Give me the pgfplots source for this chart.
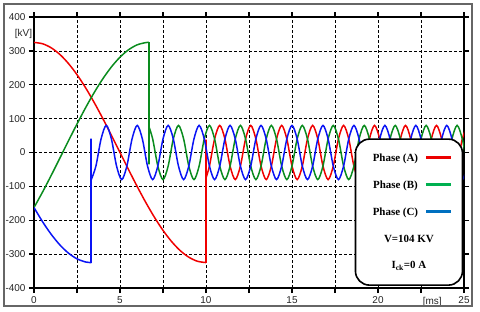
\documentclass[border=0pt]{standalone}
\usepackage{fontspec}
\setmainfont{Liberation Sans}
\newfontfamily\legfont{Liberation Serif}
\usepackage{pgfplots}
\pgfplotsset{compat=1.18}
\definecolor{cA}{RGB}{240,0,0}
\definecolor{cB}{RGB}{10,140,30}
\definecolor{cC}{RGB}{10,20,245}
\definecolor{lA}{RGB}{235,0,0}
\definecolor{lB}{RGB}{0,176,80}
\definecolor{lC}{RGB}{0,112,192}
\begin{document}
\begin{tikzpicture}
\begin{axis}[
  scale only axis, width=430bp, height=271bp,
  xmin=0, xmax=25, ymin=-400, ymax=400,
  xtick={0,2.5,5,7.5,10,12.5,15,17.5,20,22.5,25},
  xticklabels={0,,5,,10,,15,,20,,25},
  ytick={-400,-300,-200,-100,0,100,200,300,400},
  yticklabels={-400,-300,-200,-100,0,100,200,300,400},
  grid=major,
  major grid style={black, line width=0.7bp, dash pattern=on 2.5bp off 2.5bp},
  tick align=outside, major tick length=5bp,
  tick style={black, line width=1.3bp},
  axis line style={line width=2bp},
  ticklabel style={font=\fontsize{10}{12}\selectfont, text=black!85},
  /pgf/number format/assume math mode=true,
]
% Phase A (red)
\addplot[cA, line width=1.5bp, smooth] coordinates {
(0,325) (0.5,321.0) (1,309.1) (1.5,289.6) (2,262.9) (2.5,229.8) (3,191.0) (3.5,147.5) (4,100.4) (4.5,50.8) (5,0)
(5.5,-50.8) (6,-100.4) (6.5,-147.5) (7,-191.0) (7.5,-229.8) (8,-262.9) (8.5,-289.6) (9,-309.1) (9.5,-321.0) (10,-325)};
\addplot[cA, line width=1.6bp] coordinates {(10,-325) (10,38) (10,-75)};
\addplot[cA, line width=1.5bp, smooth] coordinates {
(10.0,-75) (10.2,-40) (10.5,40) (10.8,80) (11.1,40) (11.4,-40) (11.7,-80) (12.0,-40) (12.3,40) (12.6,80) (12.9,40) (13.2,-40) (13.5,-80) (13.8,-40) (14.1,40) (14.4,80) (14.7,40) (15.0,-40) (15.3,-80) (15.6,-40) (15.9,40) (16.2,80) (16.5,40) (16.8,-40) (17.1,-80) (17.4,-40) (17.7,40) (18.0,80) (18.3,40) (18.6,-40) (18.9,-80) (19.2,-40) (19.5,40) (19.8,80) (20.1,40) (20.4,-40) (20.7,-80) (21.0,-40) (21.3,40) (21.6,80) (21.9,40) (22.2,-40) (22.5,-80) (22.8,-40) (23.1,40) (23.4,80) (23.7,40) (24.0,-40) (24.3,-80) (24.6,-40) (24.9,40) (25.2,80)};
% Phase B (green)
\addplot[cB, line width=1.5bp, smooth] coordinates {
(0,-162.5) (0.5,-116.5) (1,-67.6) (1.5,-17.0) (2,34.0) (2.5,84.1) (3,132.2) (3.5,177.0) (4,217.5) (4.5,252.6) (5,281.5) (5.5,303.4) (6,317.9) (6.5,324.5) (6.67,325)};
\addplot[cB, line width=1.6bp] coordinates {(6.67,325) (6.67,-35) (6.67,78)};
\addplot[cB, line width=1.5bp, smooth] coordinates {
(6.67,78) (6.9,40) (7.2,-40) (7.5,-80) (7.8,-40) (8.1,40) (8.4,80) (8.7,40) (9.0,-40) (9.3,-80) (9.6,-40) (9.9,40) (10.2,80) (10.5,40) (10.8,-40) (11.1,-80) (11.4,-40) (11.7,40) (12.0,80) (12.3,40) (12.6,-40) (12.9,-80) (13.2,-40) (13.5,40) (13.8,80) (14.1,40) (14.4,-40) (14.7,-80) (15.0,-40) (15.3,40) (15.6,80) (15.9,40) (16.2,-40) (16.5,-80) (16.8,-40) (17.1,40) (17.4,80) (17.7,40) (18.0,-40) (18.3,-80) (18.6,-40) (18.9,40) (19.2,80) (19.5,40) (19.8,-40) (20.1,-80) (20.4,-40) (20.7,40) (21.0,80) (21.3,40) (21.6,-40) (21.9,-80) (22.2,-40) (22.5,40) (22.8,80) (23.1,40) (23.4,-40) (23.7,-80) (24.0,-40) (24.3,40) (24.6,80) (24.9,40) (25.2,-40)};
% Phase C (blue)
\addplot[cC, line width=1.5bp, smooth] coordinates {
(0,-162.5) (0.5,-204.5) (1,-241.5) (1.5,-272.6) (2,-296.9) (2.5,-313.9) (3,-323.2) (3.33,-325)};
\addplot[cC, line width=1.6bp] coordinates {(3.33,-325) (3.33,41) (3.33,-80)};
\addplot[cC, line width=1.5bp, smooth] coordinates {
(3.33,-80) (3.6,-40) (3.9,40) (4.2,80) (4.5,40) (4.8,-40) (5.1,-80) (5.4,-40) (5.7,40) (6.0,80) (6.3,40) (6.6,-40) (6.9,-80) (7.2,-40) (7.5,40) (7.8,80) (8.1,40) (8.4,-40) (8.7,-80) (9.0,-40) (9.3,40) (9.6,80) (9.9,40) (10.2,-40) (10.5,-80) (10.8,-40) (11.1,40) (11.4,80) (11.7,40) (12.0,-40) (12.3,-80) (12.6,-40) (12.9,40) (13.2,80) (13.5,40) (13.8,-40) (14.1,-80) (14.4,-40) (14.7,40) (15.0,80) (15.3,40) (15.6,-40) (15.9,-80) (16.2,-40) (16.5,40) (16.8,80) (17.1,40) (17.4,-40) (17.7,-80) (18.0,-40) (18.3,40) (18.6,80) (18.9,40) (19.2,-40) (19.5,-80) (19.8,-40) (20.1,40) (20.4,80) (20.7,40) (21.0,-40) (21.3,-80) (21.6,-40) (21.9,40) (22.2,80) (22.5,40) (22.8,-40) (23.1,-80) (23.4,-40) (23.7,40) (24.0,80) (24.3,40) (24.6,-40) (24.9,-80) (25.2,-40)};
\coordinate (o) at (rel axis cs:0,0);
\coordinate (kv) at (axis cs:-0.1,350);
\coordinate (ms) at (axis cs:23.15,-400);
\coordinate (lg) at (axis cs:21.8,-176);
\end{axis}
\node[anchor=east, font=\fontsize{10}{12}\selectfont, text=black!85, inner sep=0] at (kv) {[kV]};
\node[anchor=north, font=\fontsize{10}{12}\selectfont, text=black!85, inner sep=0, yshift=-9bp] at (ms) {[ms]};
\node[draw=black, line width=1.6bp, rounded corners=14bp, fill=white, minimum width=107bp, minimum height=146bp, inner sep=0, align=center, font=\legfont\bfseries\fontsize{11}{13}\selectfont] at (lg) {%
\hspace*{6bp}Phase (A)\hspace{8bp}\textcolor{lA}{\rule[2.5bp]{25bp}{2.2bp}}\\[14bp]
\hspace*{6bp}Phase (B)\hspace{8bp}\textcolor{lB}{\rule[2.5bp]{25bp}{2.2bp}}\\[14bp]
\hspace*{6bp}Phase (C)\hspace{8bp}\textcolor{lC}{\rule[2.5bp]{25bp}{2.2bp}}\\[14bp]
V=104 KV\\[14bp]
I\textsubscript{ck}=0 A};
\draw[black!60, line width=1.8bp] ([shift={(-30bp,-18bp)}]o) rectangle ([shift={(438bp,284bp)}]o);
\pgfresetboundingbox
\path[use as bounding box] ([shift={(-34bp,-24bp)}]o) rectangle ([shift={(446bp,288bp)}]o);
\end{tikzpicture}
\end{document}
